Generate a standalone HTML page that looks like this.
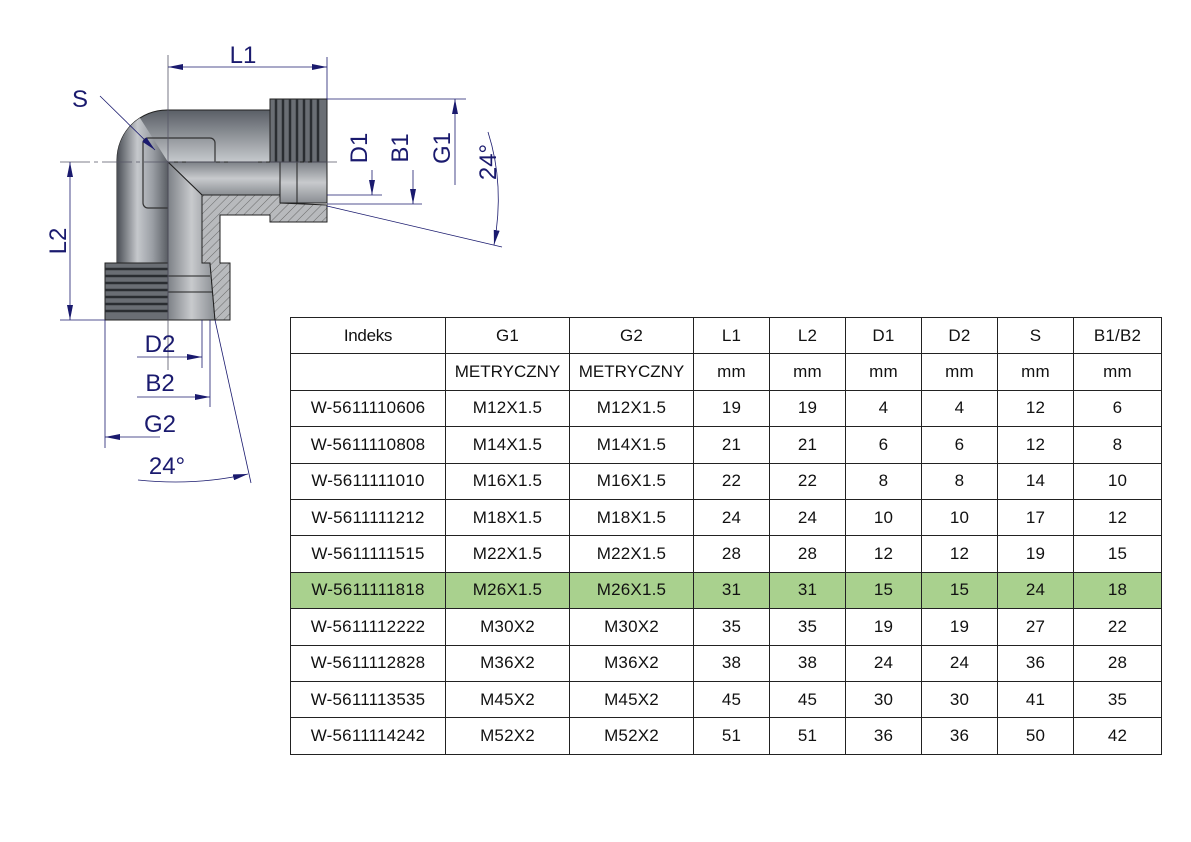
<!DOCTYPE html>
<html><head><meta charset="utf-8">
<style>
html,body{margin:0;padding:0;background:#fff;}
body{width:1191px;height:842px;position:relative;overflow:hidden;font-family:"Liberation Sans",Arial,sans-serif;}
table{position:absolute;left:290px;top:317px;border-collapse:collapse;table-layout:fixed;}
td{border:1px solid #222;height:35.4px;padding:0;text-align:center;font-size:17px;color:#111;letter-spacing:0.2px;}
tr.g td{background:#a9d18e;}
svg{position:absolute;left:0;top:0;}
</style></head><body>
<svg width="600" height="500" viewBox="0 0 600 500">
<defs>
<linearGradient id="gh" x1="0" y1="0" x2="0" y2="1">
<stop offset="0" stop-color="#5a5f66"/><stop offset="0.35" stop-color="#c9ccd0"/><stop offset="0.6" stop-color="#9a9ea4"/><stop offset="1" stop-color="#3e4248"/></linearGradient>
<linearGradient id="gv" x1="0" y1="0" x2="1" y2="0">
<stop offset="0" stop-color="#4a4e55"/><stop offset="0.4" stop-color="#c5c8cc"/><stop offset="0.7" stop-color="#9a9ea4"/><stop offset="1" stop-color="#5a5e64"/></linearGradient>
<linearGradient id="gb" x1="0" y1="0" x2="0" y2="1">
<stop offset="0" stop-color="#7d8187"/><stop offset="0.5" stop-color="#c8cacd"/><stop offset="1" stop-color="#8a8e93"/></linearGradient>
<linearGradient id="gbv" x1="0" y1="0" x2="1" y2="0">
<stop offset="0" stop-color="#7d8187"/><stop offset="0.5" stop-color="#c8cacd"/><stop offset="1" stop-color="#8a8e93"/></linearGradient>
<pattern id="hat" width="6" height="6" patternUnits="userSpaceOnUse" patternTransform="rotate(45)">
<rect width="6" height="6" fill="#b8babd"/><line x1="0" y1="0" x2="0" y2="6" stroke="#555" stroke-width="0.8"/></pattern>
<marker id="ar" viewBox="0 0 15 6" refX="15" refY="3" markerWidth="15" markerHeight="6" markerUnits="userSpaceOnUse" orient="auto-start-reverse"><path d="M0,0 L15,3 L0,6z" fill="#1a1a6e"/></marker>
</defs>
<path d="M117,263 L117,160 A50,50 0 0 1 167,110 L270,110 L270,162 L168,162 L168,263 Z" fill="url(#gh)" stroke="#222" stroke-width="1"/>
<path d="M117,263 L117,160 A50,50 0 0 1 140,118 L168,162 L168,263 Z" fill="url(#gv)" stroke="none"/>
<rect x="143" y="138" width="72" height="70" rx="5" fill="none" stroke="#333" stroke-width="1.2"/>
<rect x="270" y="99" width="57" height="63" fill="#6a6e74" stroke="#222"/>
<g stroke="#2a2d31" stroke-width="2.5">
<line x1="276" y1="99" x2="276" y2="162"/><line x1="283" y1="99" x2="283" y2="162"/><line x1="290" y1="99" x2="290" y2="162"/><line x1="297" y1="99" x2="297" y2="162"/><line x1="304" y1="99" x2="304" y2="162"/><line x1="311" y1="99" x2="311" y2="162"/><line x1="318" y1="99" x2="318" y2="162"/></g>
<rect x="105" y="263" width="63" height="57" fill="#6a6e74" stroke="#222"/>
<g stroke="#2a2d31" stroke-width="2.5">
<line x1="105" y1="269" x2="168" y2="269"/><line x1="105" y1="276" x2="168" y2="276"/><line x1="105" y1="283" x2="168" y2="283"/><line x1="105" y1="290" x2="168" y2="290"/><line x1="105" y1="297" x2="168" y2="297"/><line x1="105" y1="304" x2="168" y2="304"/><line x1="105" y1="311" x2="168" y2="311"/></g>
<path d="M168,162 L327,162 L327,195 L202,195 Z" fill="url(#gb)" stroke="#222"/>
<path d="M168,162 L202,195 L202,263 L210,263 L215,320 L168,320 Z" fill="url(#gbv)" stroke="#222"/>
<rect x="280" y="162" width="47" height="41" fill="url(#gb)" stroke="#222"/>
<line x1="297" y1="162" x2="297" y2="203" stroke="#222"/>
<line x1="168" y1="276" x2="210" y2="276" stroke="#222"/><line x1="168" y1="292" x2="212" y2="292" stroke="#222"/>
<path d="M202,195 L280,195 L280,203 L327,205 L327,222 L270,222 L270,215 L220,215 L220,263 L230,263 L230,320 L215,320 L210,263 L202,263 Z" fill="url(#hat)" stroke="#222"/>
<line x1="60" y1="162" x2="337" y2="162" stroke="#556" stroke-width="0.8" stroke-dasharray="30,4,4,4"/>
<line x1="168" y1="55" x2="168" y2="370" stroke="#556" stroke-width="0.8"/>
<g stroke="#1a1a6e" stroke-width="0.8" fill="none">
<line x1="327" y1="57" x2="327" y2="100"/>
<line x1="168" y1="67" x2="327" y2="67" marker-start="url(#ar)" marker-end="url(#ar)"/>
<line x1="60" y1="320" x2="105" y2="320"/>
<line x1="70" y1="162" x2="70" y2="320" marker-start="url(#ar)" marker-end="url(#ar)"/>
<line x1="327" y1="99" x2="466" y2="99"/>
<line x1="327" y1="195" x2="382" y2="195"/>
<line x1="327" y1="204" x2="422" y2="204"/>
<line x1="372" y1="170" x2="372" y2="195" marker-end="url(#ar)"/>
<line x1="413" y1="170" x2="413" y2="204" marker-end="url(#ar)"/>
<line x1="455" y1="185" x2="455" y2="99" marker-end="url(#ar)"/>
<line x1="327" y1="206" x2="502" y2="247"/>
<path d="M488,132 Q505,185 494,245" marker-end="url(#ar)"/>
<line x1="100" y1="96" x2="155" y2="150" marker-end="url(#ar)"/>
<line x1="202" y1="320" x2="202" y2="368"/>
<line x1="210" y1="320" x2="210" y2="407"/>
<line x1="105" y1="320" x2="105" y2="448"/>
<line x1="137" y1="357" x2="202" y2="357" marker-end="url(#ar)"/>
<line x1="137" y1="397" x2="210" y2="397" marker-end="url(#ar)"/>
<line x1="160" y1="437" x2="105" y2="437" marker-end="url(#ar)"/>
<line x1="215" y1="320" x2="251" y2="483"/>
<path d="M138,480 Q195,486 248,474" marker-end="url(#ar)"/>
</g>
<g fill="#1a1a6e" font-family="Liberation Sans, Arial, sans-serif" font-size="24">
<text x="243" y="63" text-anchor="middle">L1</text>
<text x="80" y="107" text-anchor="middle">S</text>
<text transform="translate(66,241) rotate(-90)" text-anchor="middle">L2</text>
<text transform="translate(367,148) rotate(-90)" text-anchor="middle">D1</text>
<text transform="translate(408,148) rotate(-90)" text-anchor="middle">B1</text>
<text transform="translate(450,148) rotate(-90)" text-anchor="middle">G1</text>
<text transform="translate(496,162) rotate(-90)" text-anchor="middle">24°</text>
<text x="160" y="352" text-anchor="middle">D2</text>
<text x="160" y="391" text-anchor="middle">B2</text>
<text x="160" y="432" text-anchor="middle">G2</text>
<text x="167" y="474" text-anchor="middle">24°</text>
</g>
</svg>
<table>
<colgroup><col style="width:155px"><col style="width:124px"><col style="width:124px"><col style="width:76px"><col style="width:76px"><col style="width:76px"><col style="width:76px"><col style="width:76px"><col style="width:88px"></colgroup>
<tr><td style="letter-spacing:-0.3px">Indeks</td><td>G1</td><td>G2</td><td>L1</td><td>L2</td><td>D1</td><td>D2</td><td>S</td><td>B1/B2</td></tr>
<tr><td></td><td style="letter-spacing:0">METRYCZNY</td><td style="letter-spacing:0">METRYCZNY</td><td>mm</td><td>mm</td><td>mm</td><td>mm</td><td>mm</td><td>mm</td></tr>
<tr><td>W-5611110606</td><td>M12X1.5</td><td>M12X1.5</td><td>19</td><td>19</td><td>4</td><td>4</td><td>12</td><td>6</td></tr>
<tr><td>W-5611110808</td><td>M14X1.5</td><td>M14X1.5</td><td>21</td><td>21</td><td>6</td><td>6</td><td>12</td><td>8</td></tr>
<tr><td>W-5611111010</td><td>M16X1.5</td><td>M16X1.5</td><td>22</td><td>22</td><td>8</td><td>8</td><td>14</td><td>10</td></tr>
<tr><td>W-5611111212</td><td>M18X1.5</td><td>M18X1.5</td><td>24</td><td>24</td><td>10</td><td>10</td><td>17</td><td>12</td></tr>
<tr><td>W-5611111515</td><td>M22X1.5</td><td>M22X1.5</td><td>28</td><td>28</td><td>12</td><td>12</td><td>19</td><td>15</td></tr>
<tr class="g"><td>W-5611111818</td><td>M26X1.5</td><td>M26X1.5</td><td>31</td><td>31</td><td>15</td><td>15</td><td>24</td><td>18</td></tr>
<tr><td>W-5611112222</td><td>M30X2</td><td>M30X2</td><td>35</td><td>35</td><td>19</td><td>19</td><td>27</td><td>22</td></tr>
<tr><td>W-5611112828</td><td>M36X2</td><td>M36X2</td><td>38</td><td>38</td><td>24</td><td>24</td><td>36</td><td>28</td></tr>
<tr><td>W-5611113535</td><td>M45X2</td><td>M45X2</td><td>45</td><td>45</td><td>30</td><td>30</td><td>41</td><td>35</td></tr>
<tr><td>W-5611114242</td><td>M52X2</td><td>M52X2</td><td>51</td><td>51</td><td>36</td><td>36</td><td>50</td><td>42</td></tr>
</table>
</body></html>
